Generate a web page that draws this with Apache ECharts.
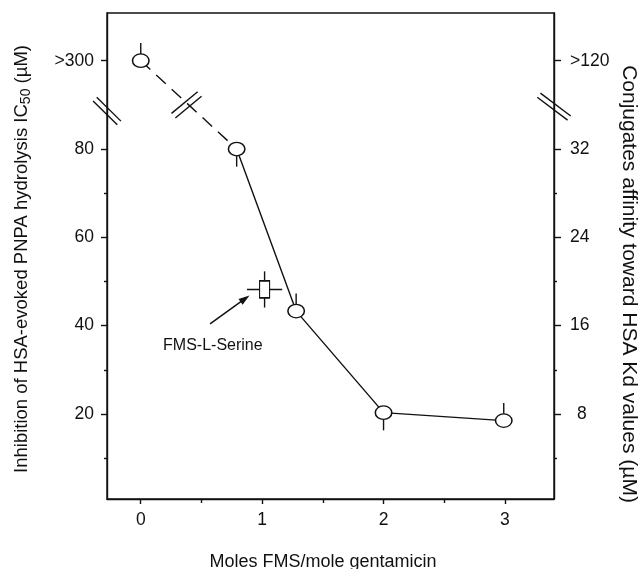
<!DOCTYPE html>
<html>
<head>
<meta charset="utf-8">
<script src="https://cdn.jsdelivr.net/npm/echarts@6/dist/echarts.min.js"></script>
<style>
html,body{margin:0;padding:0;background:#fff;}
#chart{width:642px;height:569px;}
</style>
</head>
<body>
<div id="chart"></div>
<script>
// ---- data ----
const xValues = [0, 0.79, 1.28, 2, 2.99];            // moles FMS / mole gentamicin
const yValues = [100, 80, 43.3, 20.3, 18.5];          // left scale (100 drawn as ">300")
const errUp = [4, 0, 4, 0, 4];
const errDown = [0, 4, 0, 4, 0];
const serineX = [1.02];
const serineY = [48.2];
const serineErrX = [0.145];
const serineErrY = [4.1];
const leftTicks = [20, 40, 60, 80, 100];
const leftMinor = [10, 30, 50, 70];
const rightTicks = [8, 16, 24, 32, 40];
const rightMinor = [4, 12, 20, 28];
const xTicks = [0, 1, 2, 3];
const xMinor = [0.5, 1.5, 2.5];
const breakLabelsLeft = {100: '>300'};
const breakLabelsRight = {40: '>120'};
const annotText = 'FMS-L-Serine';
const annotPos = [0.594, 35.4];
const arrowFrom = [0.571, 40.4];
const arrowTo = [0.859, 46.1];
const xMin = -0.278, xMax = 3.404;
const yMin = 0.75, yMax = 110.8;
const ratio = 2.5; // left / right scale
const breakPoints = [[xMin, 88.6], [xMax, 89.6], [0.377, 90.0]];

const INK = '#111';
const FONT = '"Liberation Sans", Arial, Helvetica, sans-serif';
const breakStyle = [
  {angle: 44.6, half: 17, gap: 2.6},
  {angle: 37, half: 19, gap: 2.6},
  {angle: -39.7, half: 17, gap: 3}
];

const chart = echarts.init(document.getElementById('chart'));

function yAxisBase(pos, min, max, ticks, len, labels, fmt) {
  return {
    type: 'value', position: pos, min: min, max: max,
    axisLine: {show: labels, onZero: false, lineStyle: {color: INK, width: 1.4}},
    axisTick: {show: true, inside: false, length: len, customValues: ticks, lineStyle: {color: INK, width: 1.4}},
    axisLabel: labels ? {show: true, customValues: ticks, formatter: fmt, color: INK, fontSize: 17.5, fontFamily: FONT,
      margin: pos === 'left' ? 13 : 16, align: pos === 'left' ? 'right' : 'left',
      rich: {p: {fontSize: 17.5, fontFamily: FONT, color: INK, padding: [0, 0, 0, 7]}}} : {show: false},
    splitLine: {show: false}
  };
}

const option = {
  animation: false,
  backgroundColor: '#fff',
  grid: {left: 107, right: 88, top: 13, bottom: 70, containLabel: false, outerBoundsMode: 'none',
    show: true, borderColor: INK, borderWidth: 1.4, backgroundColor: 'transparent'},
  xAxis: [
    {type: 'value', position: 'bottom', min: xMin, max: xMax,
      axisLine: {show: true, onZero: false, lineStyle: {color: INK, width: 1.4}},
      axisTick: {show: true, length: 5, customValues: xTicks, lineStyle: {color: INK, width: 1.4}},
      axisLabel: {show: true, customValues: xTicks, color: INK, fontSize: 17.5, fontFamily: FONT, margin: 12},
      splitLine: {show: false}},
    {type: 'value', position: 'bottom', min: xMin, max: xMax,
      axisLine: {show: false, onZero: false},
      axisTick: {show: true, length: 4, customValues: xMinor, lineStyle: {color: INK, width: 1.4}},
      axisLabel: {show: false}, splitLine: {show: false}}
  ],
  yAxis: [
    yAxisBase('left', yMin, yMax, leftTicks, 6, true, v => breakLabelsLeft[v] || String(v)),
    yAxisBase('right', yMin / ratio, yMax / ratio, rightTicks, 7, true,
      v => breakLabelsRight[v] || (v < 10 ? '{p|' + v + '}' : String(v))),
    yAxisBase('left', yMin, yMax, leftMinor, 3, false),
    yAxisBase('right', yMin / ratio, yMax / ratio, rightMinor, 3, false)
  ],
  graphic: [
    {type: 'text', x: 22, y: 259, rotation: Math.PI / 2,
      style: {text: '{a|Inhibition of HSA-evoked PNPA hydrolysis IC}{s|50}{a| (µM)}', align: 'center', verticalAlign: 'middle',
        rich: {a: {fontSize: 18.5, fontFamily: FONT, fill: INK, lineHeight: 22},
               s: {fontSize: 14, fontFamily: FONT, fill: INK, lineHeight: 14, verticalAlign: 'bottom'}}}},
    {type: 'text', x: 629, y: 284, rotation: -Math.PI / 2,
      style: {text: 'Conjugates affinity toward HSA Kd values (µM)', align: 'center', verticalAlign: 'middle',
        fontSize: 21, fontFamily: FONT, fill: INK}},
    {type: 'text', x: 323, y: 562,
      style: {text: 'Moles FMS/mole gentamicin', align: 'center', verticalAlign: 'middle',
        fontSize: 18, fontFamily: FONT, fill: INK}}
  ],
  series: [
    {type: 'line', name: 'dashed', xAxisIndex: 0, yAxisIndex: 0, symbol: 'none', z: 2,
      data: [[xValues[0], yValues[0]], [xValues[1], yValues[1]]],
      lineStyle: {color: INK, width: 1.4, type: [13, 8]}},
    {type: 'line', name: 'solid', xAxisIndex: 0, yAxisIndex: 0, symbol: 'none', z: 2,
      data: xValues.slice(1).map((x, i) => [x, yValues[i + 1]]),
      lineStyle: {color: INK, width: 1.4}},
    {type: 'custom', name: 'errorbars', xAxisIndex: 0, yAxisIndex: 0, z: 3,
      data: xValues.map((x, i) => [x, yValues[i] - errDown[i], yValues[i] + errUp[i]]),
      renderItem: function (params, api) {
        const p1 = api.coord([api.value(0), api.value(1)]);
        const p2 = api.coord([api.value(0), api.value(2)]);
        return {type: 'line', shape: {x1: p1[0], y1: p1[1], x2: p2[0], y2: p2[1]},
          style: {stroke: INK, lineWidth: 1.4}};
      }},
    {type: 'scatter', name: 'points', xAxisIndex: 0, yAxisIndex: 0, z: 5,
      symbol: 'path://M0,10A10,10 0 1,1 20,10A10,10 0 1,1 0,10Z', symbolSize: [16.5, 13.5],
      data: xValues.map((x, i) => [x, yValues[i]]),
      itemStyle: {color: '#fff', borderColor: INK, borderWidth: 1.4, opacity: 1}},
    {type: 'custom', name: 'serineBars', xAxisIndex: 0, yAxisIndex: 0, z: 3,
      data: serineX.map((x, i) => [x, serineY[i], serineErrX[i], serineErrY[i]]),
      renderItem: function (params, api) {
        const x = api.value(0), y = api.value(1), ex = api.value(2), ey = api.value(3);
        const l = api.coord([x - ex, y]), r = api.coord([x + ex, y]);
        const t = api.coord([x, y + ey]), b = api.coord([x, y - ey]);
        return {type: 'group', children: [
          {type: 'line', shape: {x1: l[0], y1: l[1], x2: r[0], y2: r[1]}, style: {stroke: INK, lineWidth: 1.4}},
          {type: 'line', shape: {x1: t[0], y1: t[1], x2: b[0], y2: b[1]}, style: {stroke: INK, lineWidth: 1.4}}
        ]};
      }},
    {type: 'scatter', name: 'FMS-L-Serine', xAxisIndex: 0, yAxisIndex: 0, z: 5,
      symbol: 'rect', symbolSize: [10, 17],
      data: serineX.map((x, i) => [x, serineY[i]]),
      itemStyle: {color: '#fff', borderColor: INK, borderWidth: 1.4, opacity: 1},
      markLine: {silent: true, symbol: ['none', 'triangle'], symbolSize: [7, 11],
        label: {show: false},
        lineStyle: {color: INK, width: 1.5, type: 'solid', opacity: 1},
        data: [[{coord: arrowFrom}, {coord: arrowTo}]]}},
    {type: 'scatter', name: 'annot', xAxisIndex: 0, yAxisIndex: 0, z: 6,
      symbolSize: 1, itemStyle: {color: 'transparent', opacity: 1},
      data: [annotPos],
      label: {show: true, position: 'inside', formatter: annotText, color: INK, fontSize: 16, fontFamily: FONT, opacity: 1}},
    {type: 'custom', name: 'breaks', xAxisIndex: 0, yAxisIndex: 0, z: 7, clip: false,
      data: breakPoints,
      renderItem: function (params, api) {
        const c = api.coord([api.value(0), api.value(1)]);
        const s = breakStyle[params.dataIndex];
        const a = s.angle * Math.PI / 180;
        const dx = Math.cos(a) * s.half, dy = Math.sin(a) * s.half;
        const nx = -Math.sin(a) * s.gap, ny = Math.cos(a) * s.gap;
        const kids = [];
        [-1, 1].forEach(k => {
          kids.push({type: 'line', shape: {x1: c[0] - dx + k * nx, y1: c[1] - dy + k * ny,
            x2: c[0] + dx + k * nx, y2: c[1] + dy + k * ny}, style: {stroke: INK, lineWidth: 1.4}});
        });
        return {type: 'group', children: kids};
      }}
  ]
};
chart.setOption(option);
</script>
</body>
</html>
